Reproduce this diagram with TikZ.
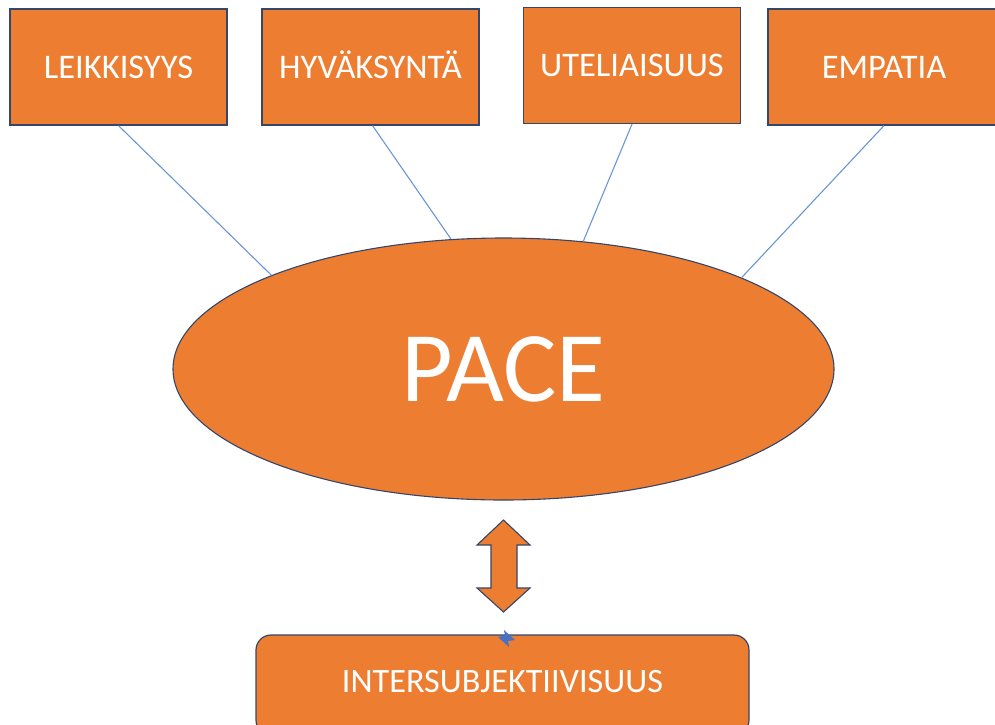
\documentclass[tikz,border=0pt]{standalone}
\usepackage{fontspec}
\setmainfont{Carlito}
\usetikzlibrary{shapes.geometric}
\definecolor{ora}{HTML}{ED7D31}
\definecolor{edge}{HTML}{34466A}
\definecolor{lnk}{HTML}{6A95D8}
\definecolor{mk}{HTML}{4472C4}
\begin{document}
\begin{tikzpicture}[x=1pt,y=-1pt,
  topbox/.style={draw=edge,line width=1.2pt,fill=ora,text=white,inner sep=0pt,
     minimum width=217pt,minimum height=116pt,font=\fontsize{34.5}{38}\selectfont,
     text height=22.2pt,text depth=0pt},
  link/.style={draw=lnk,line width=1.1pt},
  shapeline/.style={draw=edge,line width=1.1pt,fill=ora}]
\clip (0,0) rectangle (995,724);
\useasboundingbox (0,0) rectangle (995,724);
\node[topbox] (p) at (118.5,67) {LEIKKISYYS};
\node[topbox] (a) at (370.5,67) {HYVÄKSYNTÄ};
\node[topbox] (c) at (632,65.5) {UTELIAISUUS};
\node[topbox,minimum width=232pt] (e) at (884,67) {EMPATIA};
\node[ellipse,shapeline,inner sep=0pt,minimum width=661pt,minimum height=262pt,
      text=white,font=\fontsize{100}{104}\selectfont,text height=64pt,text depth=0pt] (pace) at (503.5,369) {PACE};
\draw[link] (p.south) -- (pace.158);
\draw[link] ([xshift=2pt]a.south) -- (pace.112.4);
\draw[link] (c.south) -- (pace.58.2);
\draw[link] (e.south) -- (pace.21.8);
% double arrow
\draw[shapeline,line join=miter] (503.5,520) -- (530,545) -- (517,545) -- (517,588) -- (530,588)
  -- (503.5,612) -- (477,588) -- (491,588) -- (491,545) -- (477,545) -- cycle;
\node[draw=edge,line width=1.2pt,fill=ora,rounded corners=15pt,minimum width=493pt,
      minimum height=100pt,inner sep=0pt,text=white,font=\fontsize{34.2}{38}\selectfont,
      text height=22pt,text depth=8pt]
      (i) at (502.5,685) {INTERSUBJEKTIIVISUUS};
% small blue selection mark
\fill[mk] (498,637) -- (505,635.5) -- (504,630) -- (515,640) -- (508,641) -- (509,647) -- cycle;
\end{tikzpicture}
\end{document}
